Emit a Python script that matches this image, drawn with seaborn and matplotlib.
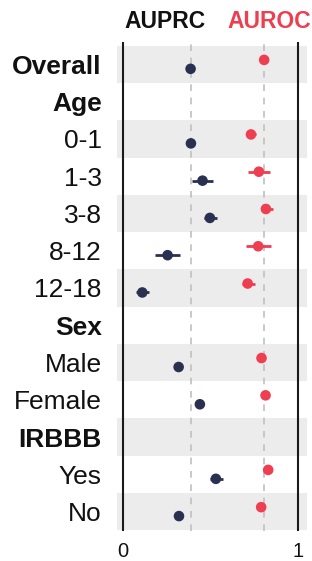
import numpy as np
import pandas as pd
import matplotlib
matplotlib.use("Agg")
import matplotlib.pyplot as plt
import seaborn as sns

labels = ["Overall", "Age", "0-1", "1-3", "3-8", "8-12", "12-18",
          "Sex", "Male", "Female", "IRBBB", "Yes", "No"]
headers = ["Overall", "Age", "Sex", "IRBBB"]
nan = np.nan
auprc = [0.387, nan, 0.389, 0.455, 0.497, 0.256, 0.112, nan, 0.319, 0.440, nan, 0.531, 0.321]
auprc_lo = [0.380, nan, 0.365, 0.393, 0.463, 0.184, 0.076, nan, 0.302, 0.428, nan, 0.497, 0.304]
auprc_hi = [0.395, nan, 0.415, 0.516, 0.537, 0.326, 0.152, nan, 0.338, 0.453, nan, 0.573, 0.339]
auroc = [0.806, nan, 0.731, 0.776, 0.816, 0.772, 0.712, nan, 0.791, 0.814, nan, 0.829, 0.789]
auroc_lo = [0.800, nan, 0.702, 0.715, 0.790, 0.702, 0.677, nan, 0.778, 0.803, nan, 0.818, 0.777]
auroc_hi = [0.813, nan, 0.762, 0.839, 0.858, 0.843, 0.753, nan, 0.805, 0.826, nan, 0.842, 0.802]

c_prc = "#2a3150"
c_roc = "#ee3e50"

sns.set_theme(style="white")
plt.rcParams['font.family'] = ['Liberation Sans', 'DejaVu Sans']

fig = plt.figure(figsize=(3.12, 5.61), dpi=100)
ax = fig.add_axes([117/312, 1 - 531/561, (307 - 117)/312, (531 - 42)/561])

n = len(labels)
pos = np.arange(n)
off = 0.12
rows = []
for i, lab in enumerate(labels):
    rows.append(dict(label=lab, y=pos[i] + off, metric="AUPRC", v=auprc[i], lo=auprc_lo[i], hi=auprc_hi[i]))
    rows.append(dict(label=lab, y=pos[i] - off, metric="AUROC", v=auroc[i], lo=auroc_lo[i], hi=auroc_hi[i]))
df = pd.DataFrame(rows).dropna()

# bands
for i in range(0, n, 2):
    ax.axhspan(i - 0.5, i + 0.5, color="#ececec", lw=0, zorder=0)

ax.axvline(0, color="#1a1a1a", lw=1.5, zorder=1)
ax.axvline(1, color="#1a1a1a", lw=1.5, zorder=1)
ax.axvline(auprc[0], color="#c0c0c0", lw=1.2, ls=(0, (4, 4)), zorder=1)
ax.axvline(auroc[0], color="#c0c0c0", lw=1.2, ls=(0, (4, 4)), zorder=1)

pal = {"AUPRC": c_prc, "AUROC": c_roc}
for m, g in df.groupby("metric"):
    ax.hlines(g["y"], g["lo"], g["hi"], color=pal[m], lw=2, zorder=2)
sns.scatterplot(data=df, x="v", y="y", hue="metric", palette=pal, s=58,
                edgecolor="none", legend=False, ax=ax, zorder=3)

ax.set_xlim(-0.032, 1.05)
ax.set_ylim(n - 0.48, -0.6)
ax.set_yticks(pos)
ax.set_yticklabels(labels, fontsize=19)
for t in ax.get_yticklabels():
    if t.get_text() in headers:
        t.set_fontweight("bold")
    t.set_color("#111111")
ax.set_xticks([0, 1])
ax.set_xticklabels(["0", "1"], fontsize=14.5, color="#111111")
ax.tick_params(axis="both", length=0)
ax.tick_params(axis="x", pad=8)
ax.tick_params(axis="y", pad=11)
ax.set_xlabel("")
ax.set_ylabel("")
for s in ax.spines.values():
    s.set_visible(False)

fig.text(165/312, 1 - 21/561, "AUPRC", ha="center", va="center", fontsize=16.5, fontweight="bold", color="#111111")
fig.text(269/312, 1 - 21/561, "AUROC", ha="center", va="center", fontsize=16.5, fontweight="bold", color=c_roc)

fig.savefig("out.png", dpi=100)
